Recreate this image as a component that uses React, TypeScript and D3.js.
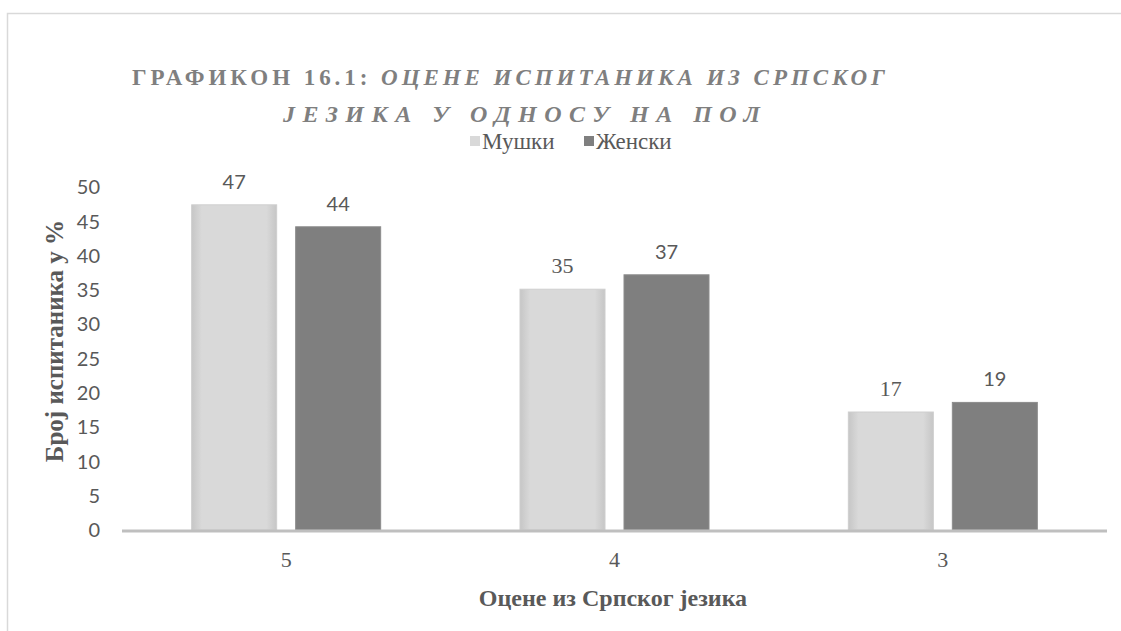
import React, { useEffect, useRef } from 'react';
import * as d3 from 'd3';

const categories = ['5', '4', '3'];
const seriesNames = ['Мушки', 'Женски'];
const maleValues = [47.4, 35.1, 17.2];
const femaleValues = [44.2, 37.2, 18.6];
const yTicks = [0, 5, 10, 15, 20, 25, 30, 35, 40, 45, 50];

const titleBold = 'ГРАФИКОН 16.1: ';
const titleItalic1 = 'ОЦЕНЕ ИСПИТАНИКА ИЗ СРПСКОГ';
const titleLine2 = 'ЈЕЗИКА У ОДНОСУ НА ПОЛ';
const xTitle = 'Оцене из Српског језика';
const yTitle = 'Број испитаника у %';

const serif = '"Liberation Serif", "Times New Roman", serif';
const sans = 'Lato, "Liberation Sans", sans-serif';
const textColor = '#595959';
const colors = ['#d9d9d9', '#7f7f7f'];

function App() {
  const svgRef = useRef(null);
  const width = 1121;
  const height = 631;

  useEffect(() => {
    const svg = d3.select(svgRef.current);
    svg.selectAll('*').remove();

    const margin = { top: 187, right: 14, bottom: 101, left: 122 };
    const innerWidth = width - margin.left - margin.right;

    const defs = svg.append('defs');
    const grad = defs.append('linearGradient').attr('id', 'maleGrad')
      .attr('x1', '0%').attr('x2', '100%').attr('y1', '0%').attr('y2', '0%');
    grad.append('stop').attr('offset', '0%').attr('stop-color', '#c6c6c6');
    grad.append('stop').attr('offset', '12%').attr('stop-color', '#d9d9d9');
    grad.append('stop').attr('offset', '88%').attr('stop-color', '#d9d9d9');
    grad.append('stop').attr('offset', '100%').attr('stop-color', '#c6c6c6');

    // chart frame
    svg.append('rect')
      .attr('x', 7.5).attr('y', 13.5)
      .attr('width', width).attr('height', height)
      .attr('fill', '#fff')
      .attr('stroke', '#d9d9d9').attr('stroke-width', 1.5);

    const x0 = d3.scaleBand()
      .domain(categories)
      .range([margin.left, margin.left + innerWidth])
      .padding(0);

    const groupWidth = 189;
    const x1 = d3.scaleBand()
      .domain(seriesNames)
      .range([0, groupWidth])
      .paddingInner(19 / 104);

    const y = d3.scaleLinear()
      .domain([0, 50])
      .range([height - margin.bottom, margin.top]);

    // y tick labels
    svg.append('g').selectAll('text')
      .data(yTicks)
      .enter()
      .append('text')
      .attr('x', 100)
      .attr('y', d => y(d))
      .attr('dy', '0.36em')
      .attr('text-anchor', 'end')
      .style('font-family', sans)
      .style('font-size', '20px')
      .attr('fill', textColor)
      .text(d => d);

    const seriesData = [maleValues, femaleValues];
    const fmt = d3.format('.0f');
    // the source mixes fonts on the male labels: the first is sans, the others serif
    const labelFont = (si, i) => (si === 1 || i === 0 ? sans : serif);

    seriesNames.forEach((name, si) => {
      const g = svg.append('g');
      const rows = categories.map((c, i) => ({ c, v: seriesData[si][i], i }));
      const bx = d => x0(d.c) + (x0.bandwidth() - groupWidth) / 2 + x1(name);

      g.selectAll('rect')
        .data(rows)
        .enter()
        .append('rect')
        .attr('x', bx)
        .attr('y', d => y(d.v))
        .attr('width', x1.bandwidth())
        .attr('height', d => y(0) - y(d.v))
        .attr('fill', si === 0 ? 'url(#maleGrad)' : colors[1])
        .attr('stroke', si === 0 ? '#cecece' : '#8c8c8c')
        .attr('stroke-width', 1);

      g.selectAll('text')
        .data(rows)
        .enter()
        .append('text')
        .attr('x', d => bx(d) + x1.bandwidth() / 2)
        .attr('y', d => y(d.v) - 16)
        .attr('text-anchor', 'middle')
        .attr('font-family', d => labelFont(si, d.i))
        .attr('font-size', d => (labelFont(si, d.i) === sans ? 20 : 22))
        .attr('fill', textColor)
        .text(d => fmt(d.v));
    });

    // x axis line
    svg.append('line')
      .attr('x1', margin.left).attr('x2', margin.left + innerWidth)
      .attr('y1', y(0) + 1).attr('y2', y(0) + 1)
      .attr('stroke', '#bfbfbf').attr('stroke-width', 3);

    // category labels
    svg.append('g').selectAll('text')
      .data(categories)
      .enter()
      .append('text')
      .attr('x', d => x0(d) + x0.bandwidth() / 2)
      .attr('y', 567)
      .attr('text-anchor', 'middle')
      .style('font-family', serif)
      .style('font-size', '22px')
      .attr('fill', textColor)
      .text(d => d);

    // axis titles
    svg.append('text')
      .attr('x', 613)
      .attr('y', 606)
      .attr('text-anchor', 'middle')
      .style('font-family', serif)
      .style('font-size', '24px')
      .style('font-weight', 'bold')
      .attr('fill', textColor)
      .text(xTitle);

    svg.append('text')
      .attr('transform', 'translate(63, 341) rotate(-90)')
      .attr('text-anchor', 'middle')
      .style('font-family', serif)
      .style('font-size', '25px')
      .style('font-weight', 'bold')
      .attr('fill', textColor)
      .text(yTitle);

    // title, stretched to the width it has in the source
    const t1 = svg.append('text')
      .attr('x', 132).attr('y', 85)
      .attr('textLength', 753)
      .attr('lengthAdjust', 'spacing')
      .style('font-family', serif)
      .style('font-size', '23px')
      .style('font-weight', 'bold')
      .attr('fill', '#7f7f7f');
    t1.append('tspan').text(titleBold);
    t1.append('tspan').style('font-style', 'italic').text(titleItalic1);

    svg.append('text')
      .attr('x', 283).attr('y', 122)
      .attr('textLength', 477)
      .attr('lengthAdjust', 'spacing')
      .style('font-family', serif)
      .style('font-size', '24px')
      .style('font-weight', 'bold')
      .style('font-style', 'italic')
      .attr('fill', '#7f7f7f')
      .text(titleLine2);

    // legend
    const legend = svg.append('g').attr('transform', 'translate(470, 141)');
    const legendX = [0, 114];
    seriesNames.forEach((name, i) => {
      legend.append('rect')
        .attr('x', legendX[i]).attr('y', -5)
        .attr('width', 10).attr('height', 10)
        .attr('fill', colors[i]);
      legend.append('text')
        .attr('x', legendX[i] + 12).attr('y', 0)
        .attr('dy', '0.35em')
        .style('font-family', serif)
        .style('font-size', '23px')
        .attr('fill', textColor)
        .text(name);
    });
  }, []);

  return (
    <svg ref={svgRef} width={width} height={height}
      style={{ position: 'absolute', left: 0, top: 0, background: '#fff' }} />
  );
}

export default App;
